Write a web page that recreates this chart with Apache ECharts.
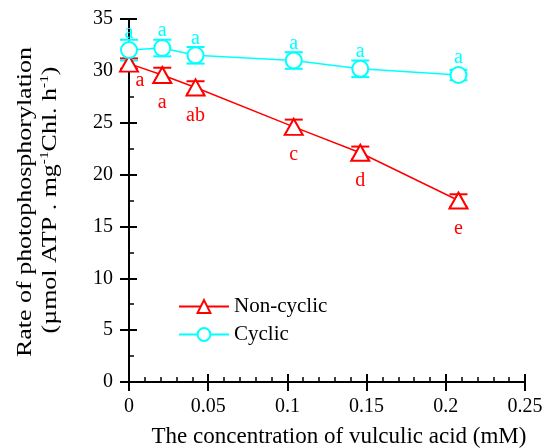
<!DOCTYPE html>
<html><head><meta charset="utf-8">
<script src="https://cdn.jsdelivr.net/npm/echarts@6/dist/echarts.min.js"></script>
<style>html,body{margin:0;padding:0;background:#fff}#c{width:547px;height:448px}</style>
</head><body><div id="c"></div>
<script>
const concentrations = [0, 0.021, 0.042, 0.104, 0.146, 0.208];
const nonCyclic = [30.7, 29.6, 28.4, 24.6, 22.1, 17.5];
const nonCyclicErr = [0.5, 0.7, 0.6, 0.7, 0.6, 0.6];
const nonCyclicLetters = ['a', 'a', 'ab', 'c', 'd', 'e'];
const cyclic = [32.0, 32.2, 31.5, 31.0, 30.2, 29.6];
const cyclicErr = [1.0, 0.8, 0.8, 0.8, 0.8, 0.5];
const cyclicLetters = ['a', 'a', 'a', 'a', 'a', 'a'];
const xTicks = [0, 0.05, 0.1, 0.15, 0.2, 0.25];
const yTicks = [0, 5, 10, 15, 20, 25, 30, 35];
const xTitle = 'The concentration of vulculic acid (mM)';
const yTitle1 = 'Rate of photophosphorylation';
const yTitle2 = '{a|(µmol ATP . mg}{s|-1}{a|Chl. h}{s|-1}{a|)}';

const RED = '#ff0000', CYAN = '#00ffff';
const FONT = 'Liberation Serif';

function errSeries(vals, errs, color) {
  return {
    type: 'custom', silent: true, z: 3,
    data: concentrations.map((x, i) => [x, vals[i], errs[i]]),
    renderItem: function (params, api) {
      const x = api.value(0), y = api.value(1), e = api.value(2);
      const hi = api.coord([x, y + e]), lo = api.coord([x, y - e]);
      const w = 9;
      const st = { stroke: color, lineWidth: 2 };
      return { type: 'group', children: [
        { type: 'line', shape: { x1: hi[0], y1: hi[1], x2: lo[0], y2: lo[1] }, style: st },
        { type: 'line', shape: { x1: hi[0] - w, y1: hi[1], x2: hi[0] + w, y2: hi[1] }, style: st },
        { type: 'line', shape: { x1: lo[0] - w, y1: lo[1], x2: lo[0] + w, y2: lo[1] }, style: st }
      ]};
    }
  };
}

function letterSeries(vals, letters, color, above) {
  return {
    type: 'custom', silent: true, z: 5,
    data: concentrations.map((x, i) => [x, vals[i], i]),
    renderItem: function (params, api) {
      const i = api.value(2);
      const p = api.coord([api.value(0), api.value(1)]);
      let dx = 0, dy = above ? -17 : 28;
      if (!above && i === 0) { dx = 11; dy = 17; }
      return { type: 'text', style: {
        text: letters[i], x: p[0] + dx, y: p[1] + dy,
        fill: color, font: '20px "' + FONT + '"', align: 'center', verticalAlign: 'middle'
      }};
    }
  };
}

const chart = echarts.init(document.getElementById('c'), null, { renderer: 'canvas' });
const axisLine = { show: true, onZero: false, lineStyle: { color: '#000', width: 2 } };
chart.setOption({
  animation: false,
  backgroundColor: '#fff',
  grid: [{ left: 129, right: 22, top: 19, bottom: 66, outerBoundsMode: 'none', containLabel: false }],
  legend: {
    left: 178, top: 296, padding: 0, orient: 'vertical', itemGap: 7, itemWidth: 50, itemHeight: 16,
    textStyle: { fontFamily: FONT, fontSize: 21, color: '#000' },
    data: ['Non-cyclic', 'Cyclic']
  },
  graphic: [{
    type: 'text', x: 25, y: 202, rotation: Math.PI / 2, scaleX: 1.18,
    style: { text: yTitle1, font: '22px "' + FONT + '"', fill: '#000', align: 'center', verticalAlign: 'middle' }
  }, {
    type: 'text', x: 50, y: 200, rotation: Math.PI / 2, scaleX: 1.18,
    style: { text: yTitle2, align: 'center', verticalAlign: 'middle', fill: '#000',
      rich: {
        a: { fontFamily: FONT, fontSize: 22, fill: '#000', lineHeight: 24 },
        s: { fontFamily: FONT, fontSize: 13, fill: '#000', lineHeight: 24, verticalAlign: 'top', padding: [0, 0, 10, 0] }
      } }
  }],
  xAxis: [{
    type: 'value', min: 0, max: 0.25, interval: 0.05,
    axisLine: axisLine,
    axisTick: { inside: true, length: 8, lineStyle: { color: '#000', width: 2 } },
    minorTick: { show: true, splitNumber: 5, length: 5, lineStyle: { color: '#000', width: 1.5 } },
    axisLabel: { fontFamily: FONT, fontSize: 20, color: '#000', margin: 15,
      formatter: v => String(parseFloat(v.toFixed(2))) },
    splitLine: { show: false },
    name: xTitle, nameLocation: 'middle', nameGap: 43,
    nameTextStyle: { fontFamily: FONT, fontSize: 23, color: '#000', padding: [0, 0, 0, 24] }
  }, {
    type: 'value', min: 0, max: 0.25, interval: 0.05, position: 'bottom',
    axisLine: { show: false }, axisLabel: { show: false }, splitLine: { show: false },
    axisTick: { show: true, inside: false, length: 9, lineStyle: { color: '#000', width: 2 } }
  }],
  yAxis: [{
    type: 'value', min: 0, max: 35, interval: 5,
    axisLine: axisLine,
    axisTick: { inside: true, length: 8, lineStyle: { color: '#000', width: 2 } },
    minorTick: { show: true, splitNumber: 2, length: 5, lineStyle: { color: '#000', width: 1.5 } },
    axisLabel: { fontFamily: FONT, fontSize: 20, color: '#000', margin: 16 },
    splitLine: { show: false }
  }, {
    type: 'value', min: 0, max: 35, interval: 5, position: 'left',
    axisLine: { show: false }, axisLabel: { show: false }, splitLine: { show: false },
    axisTick: { show: true, inside: false, length: 9, lineStyle: { color: '#000', width: 2 } }
  }],
  series: [
    errSeries(nonCyclic, nonCyclicErr, RED),
    errSeries(cyclic, cyclicErr, CYAN),
    {
      name: 'Non-cyclic', type: 'line', z: 4,
      data: concentrations.map((x, i) => [x, nonCyclic[i]]),
      symbol: 'triangle', symbolSize: [18, 16],
      lineStyle: { color: RED, width: 1.5 },
      itemStyle: { color: '#fff', borderColor: RED, borderWidth: 2 }
    },
    {
      name: 'Cyclic', type: 'line', z: 4,
      data: concentrations.map((x, i) => [x, cyclic[i]]),
      symbol: 'circle', symbolSize: 16,
      lineStyle: { color: CYAN, width: 1.5 },
      itemStyle: { color: '#fff', borderColor: CYAN, borderWidth: 2 }
    },
    letterSeries(nonCyclic, nonCyclicLetters, RED, false),
    letterSeries(cyclic, cyclicLetters, CYAN, true)
  ]
});
</script></body></html>
